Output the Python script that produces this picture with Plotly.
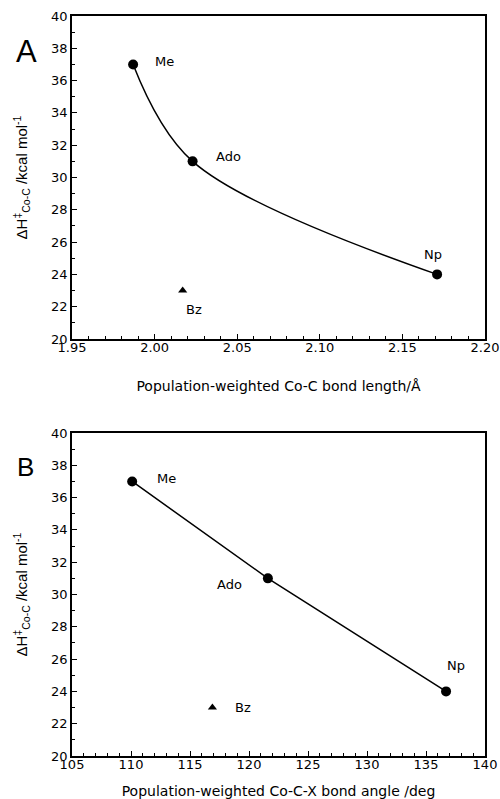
import plotly.graph_objects as go

# ---- data ----
names = ["Me", "Ado", "Np"]
bond_length = [1.987, 2.023, 2.171]
bond_angle = [110.1, 121.6, 136.7]
dH = [37.0, 31.0, 24.0]

bz_name = ["Bz"]
bz_length = [2.017]
bz_angle = [116.9]
bz_dH = [23.0]

FONT = "Liberation Sans, Arial, sans-serif"
FONT2 = "DejaVu Sans, Liberation Sans, sans-serif"

fig = go.Figure()

# top panel
fig.add_trace(go.Scatter(x=bond_length, y=dH, mode="lines+markers",
                         line=dict(color="black", width=1.5, shape="spline", smoothing=1.0),
                         marker=dict(color="black", size=10, symbol="circle"),
                         xaxis="x", yaxis="y", showlegend=False))
fig.add_trace(go.Scatter(x=bz_length, y=bz_dH, mode="markers",
                         marker=dict(color="black", size=8, symbol="triangle-up"),
                         xaxis="x", yaxis="y", showlegend=False))
# bottom panel
fig.add_trace(go.Scatter(x=bond_angle, y=dH, mode="lines+markers",
                         line=dict(color="black", width=1.5),
                         marker=dict(color="black", size=10, symbol="circle"),
                         xaxis="x2", yaxis="y2", showlegend=False))
fig.add_trace(go.Scatter(x=bz_angle, y=bz_dH, mode="markers",
                         marker=dict(color="black", size=8, symbol="triangle-up"),
                         xaxis="x2", yaxis="y2", showlegend=False))

lab_font = dict(family=FONT2, size=13, color="black")
top_off = {"Me": (31, 3), "Ado": (36, 5), "Np": (-4, 20)}
bot_off = {"Me": (34, 3), "Ado": (-38, -6), "Np": (10, 26)}
for n, x, y in zip(names, bond_length, dH):
    dx, dy = top_off[n]
    fig.add_annotation(x=x, y=y, xref="x", yref="y", text=n, showarrow=False,
                       xshift=dx, yshift=dy, font=lab_font)
for n, x, y in zip(names, bond_angle, dH):
    dx, dy = bot_off[n]
    fig.add_annotation(x=x, y=y, xref="x2", yref="y2", text=n, showarrow=False,
                       xshift=dx, yshift=dy, font=lab_font)
fig.add_annotation(x=bz_length[0], y=bz_dH[0], xref="x", yref="y", text=bz_name[0],
                   showarrow=False, xshift=11, yshift=-19, font=lab_font)
fig.add_annotation(x=bz_angle[0], y=bz_dH[0], xref="x2", yref="y2", text=bz_name[0],
                   showarrow=False, xshift=31, yshift=0, font=lab_font)

W, H = 500, 799
ml, mr, mt, mb = 72, 15, 16, 43
pw, ph = W - ml - mr, H - mt - mb

# panel letters (pixel centres converted to paper coords)
for letter, px, py, sz in [("A", 26, 52, 31), ("B", 25, 467, 26)]:
    fig.add_annotation(x=(px - ml) / pw, y=(H - mb - py) / ph, xref="paper", yref="paper",
                       text=letter, showarrow=False, xanchor="center", yanchor="middle",
                       font=dict(family=FONT, size=sz, color="black"))

top_dom = [(H - mb - 339) / ph, 1.0]
bot_dom = [0.0, (H - mb - 433) / ph]

tick_font = dict(family=FONT2, size=13, color="black")
xtitle_font = dict(family=FONT2, size=14, color="black")
ytitle_font = dict(family=FONT, size=15, color="black")
ytitle = "\u0394H<sup>\u2021</sup><sub>Co-C</sub> /kcal mol<sup>-1</sup>"

common_x = dict(showline=True, linecolor="black", linewidth=1.5, mirror=True,
                ticks="inside", ticklen=5, tickcolor="black", tickwidth=1,
                showgrid=False, zeroline=False, tickfont=tick_font,
                title_font=xtitle_font, automargin=False, ticklabelstandoff=-4)
common_y = dict(showline=True, linecolor="black", linewidth=1.5, mirror=True,
                ticks="inside", ticklen=5, tickcolor="black", tickwidth=1,
                showgrid=False, zeroline=False, tickfont=tick_font,
                title_font=ytitle_font, automargin=False,
                range=[20, 40], tick0=20, dtick=2,
                minor=dict(ticks="inside", ticklen=3, dtick=1, tickcolor="black"))

fig.update_layout(
    width=W, height=H,
    margin=dict(l=ml, r=mr, t=mt, b=mb),
    plot_bgcolor="white", paper_bgcolor="white",
    font=dict(family=FONT, color="black"),
    xaxis=dict(**common_x, domain=[0, 1], anchor="y", range=[1.95, 2.20],
               tick0=1.95, dtick=0.05, tickformat=".2f",
               minor=dict(ticks="inside", ticklen=3, dtick=0.01, tickcolor="black"),
               title=dict(text="Population-weighted Co-C bond length/\u00c5", standoff=27)),
    yaxis=dict(**common_y, domain=top_dom, anchor="x",
               title=dict(text=ytitle, standoff=20)),
    xaxis2=dict(**common_x, domain=[0, 1], anchor="y2", range=[105, 140],
                tick0=105, dtick=5,
                minor=dict(ticks="inside", ticklen=3, dtick=1, tickcolor="black"),
                title=dict(text="Population-weighted Co-C-X bond angle /deg", standoff=15)),
    yaxis2=dict(**common_y, domain=bot_dom, anchor="x2",
                title=dict(text=ytitle, standoff=20)),
)

fig.write_html("out.html", config={"displayModeBar": False},
               post_script="document.body.style.margin='0px';document.body.style.overflow='hidden';")
